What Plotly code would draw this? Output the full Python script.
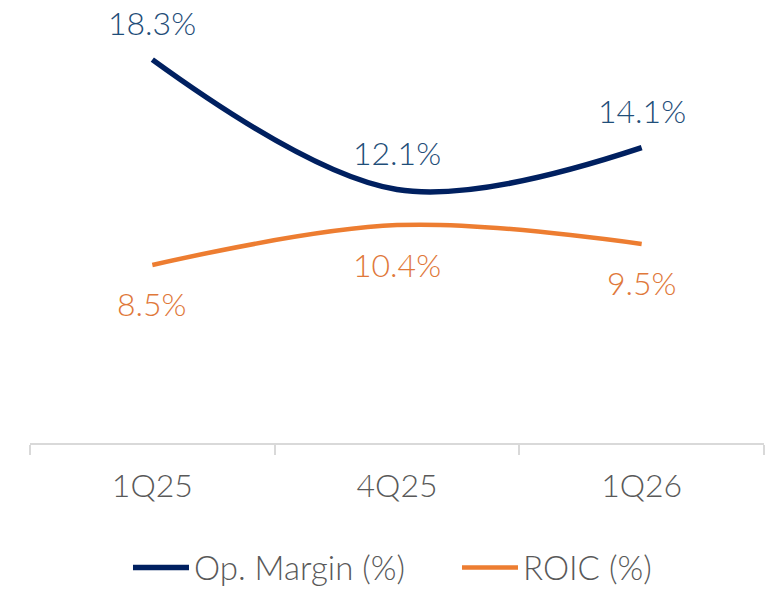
import plotly.graph_objects as go

quarters = ["1Q25", "4Q25", "1Q26"]
op_margin = [18.3, 12.1, 14.1]
roic = [8.5, 10.4, 9.5]

NAVY = "#002060"
ORANGE = "#ED7D31"
LBL_BLUE = "#1F4E79"
LBL_ORANGE = "#E0783A"
GRAY = "#595959"
FONT = "Lato, 'DejaVu Sans', sans-serif"
FS = 32

fig = go.Figure()
fig.add_trace(go.Scatter(x=quarters, y=op_margin, mode="lines", name="Op. Margin (%)",
                         line=dict(color=NAVY, width=5.5, shape="spline", smoothing=1.0)))
fig.add_trace(go.Scatter(x=quarters, y=roic, mode="lines", name="ROIC (%)",
                         line=dict(color=ORANGE, width=4.5, shape="spline", smoothing=1.0)))

for q, v in zip(quarters, op_margin):
    fig.add_annotation(x=q, y=v, text=f"{v:.1f}%", showarrow=False, yshift=37,
                       font=dict(family=FONT, size=FS, color=LBL_BLUE, weight=300))
for q, v in zip(quarters, roic):
    fig.add_annotation(x=q, y=v, text=f"{v:.1f}%", showarrow=False, yshift=-39,
                       font=dict(family=FONT, size=FS, color=LBL_ORANGE, weight=300))

fig.update_layout(
    width=774, height=590,
    margin=dict(l=30, r=10, t=24, b=147, autoexpand=False),
    paper_bgcolor="white", plot_bgcolor="white",
    font=dict(family=FONT, size=FS, color=GRAY, weight=300),
    showlegend=True,
    legend=dict(orientation="h", x=0.1335, xanchor="left", y=-0.297, yanchor="middle",
                font=dict(family=FONT, size=33, color=GRAY, weight=300),
                itemwidth=56, entrywidth=258, tracegroupgap=0),
    xaxis=dict(range=[-0.5, 2.5], showgrid=False, zeroline=False, showline=True,
               linecolor="#D9D9D9", linewidth=1.5, ticks="outside", tickson="boundaries",
               ticklen=10, tickcolor="#D9D9D9", tickwidth=1.5, automargin=False,
               ticklabelstandoff=14,
               tickfont=dict(family=FONT, size=FS, color=GRAY, weight=300)),
    yaxis=dict(range=[0, 20], visible=False, automargin=False),
)

fig.write_html("out.html", config={"displayModeBar": False},
               post_script="document.body.style.margin='0';")
